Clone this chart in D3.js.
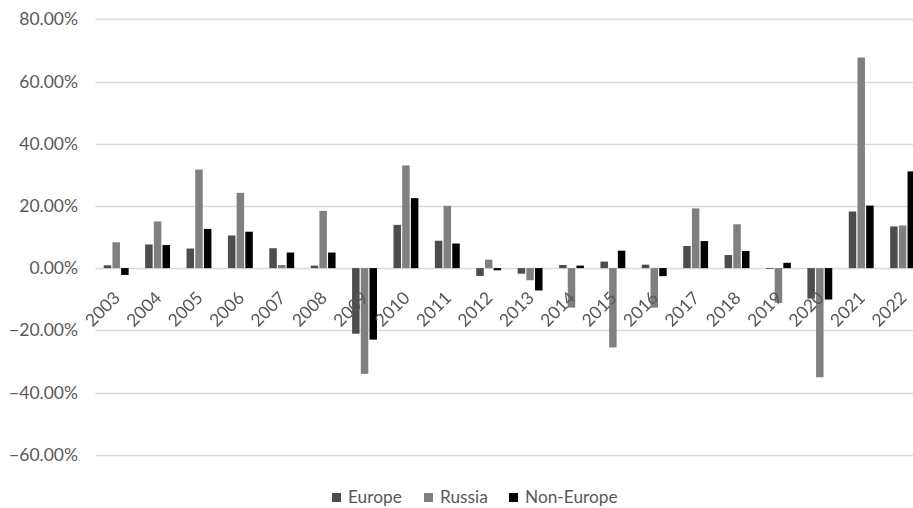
<!DOCTYPE html>
<html>
<head>
<meta charset="utf-8">
<script src="https://cdn.jsdelivr.net/npm/d3@7"></script>
<style>
  html, body { margin: 0; padding: 0; background: #fff; }
  svg { display: block; }
  text { font-family: Lato, "Open Sans", sans-serif; fill: #595959; -webkit-font-smoothing: antialiased; }
</style>
</head>
<body>
<svg id="chart" width="913" height="508"></svg>
<script>
// Annual change by market, in percent
const years = ["2003","2004","2005","2006","2007","2008","2009","2010","2011","2012",
               "2013","2014","2015","2016","2017","2018","2019","2020","2021","2022"];
const europe    = [0.9, 7.6, 6.3, 10.5, 6.4, 0.8, -21.1, 13.9, 8.8, -2.5,
                   -1.8, 1.0, 2.1, 1.1, 7.1, 4.2, -0.2, -9.8, 18.2, 13.4];
const russia    = [8.3, 15.0, 31.7, 24.2, 1.0, 18.4, -34.0, 33.0, 20.0, 2.7,
                   -3.9, -12.7, -25.5, -12.7, 19.2, 14.1, -11.2, -35.1, 67.7, 13.7];
const nonEurope = [-2.2, 7.4, 12.6, 11.7, 5.0, 5.0, -23.0, 22.5, 7.9, -0.7,
                   -7.2, 0.8, 5.6, -2.6, 8.7, 5.5, 1.7, -10.1, 20.1, 31.1];
const seriesNames  = ["Europe", "Russia", "Non-Europe"];
const seriesColors = ["#4d4d4d", "#808080", "#000000"];
const yTicks = [-60, -40, -20, 0, 20, 40, 60, 80];

const seriesValues = [europe, russia, nonEurope];
const rows = years.map((y, i) => ({ year: y, vals: seriesValues.map(s => s[i]) }));

const svg = d3.select("#chart");

const x = d3.scaleBand().domain(years).range([95.5, 923.3]).paddingInner(0.37).paddingOuter(0.185);
const xs = d3.scaleBand().domain(d3.range(3)).range([0, x.bandwidth()]);
const y = d3.scaleLinear().domain([-60, 80]).range([454.7, 19.3]);

// gridlines
svg.append("g").selectAll("line").data(yTicks).join("line")
  .attr("x1", 95.5).attr("x2", 913)
  .attr("y1", d => Math.round(y(d)) + 0.5).attr("y2", d => Math.round(y(d)) + 0.5)
  .attr("stroke", "#d9d9d9").attr("stroke-width", 1.3);

// y axis labels
const yAxis = d3.axisLeft(y).tickValues(yTicks).tickSize(0).tickPadding(0)
  .tickFormat(d => d3.format(".2f")(d) + "%");
const gy = svg.append("g").attr("transform", "translate(78,0)").call(yAxis);
gy.select(".domain").remove();
gy.selectAll("text").attr("font-size", 17.5).attr("font-family", "Lato, sans-serif").attr("fill", "#595959");

// bars
const groups = svg.append("g").selectAll("g").data(rows).join("g")
  .attr("transform", d => `translate(${x(d.year)},0)`);
groups.selectAll("rect").data(d => d.vals.map((v, k) => ({ v, k }))).join("rect")
  .attr("x", d => xs(d.k) + 0.6)
  .attr("width", xs.bandwidth() - 1.2)
  .attr("y", d => Math.min(y(0), y(d.v)))
  .attr("height", d => Math.max(0.8, Math.abs(y(d.v) - y(0))))
  .attr("fill", d => seriesColors[d.k]);

// category labels, drawn over the bars
const xAxis = d3.axisBottom(x).tickSize(0).tickPadding(0);
const gx = svg.append("g").attr("opacity", 0.999).call(xAxis);
gx.select(".domain").remove();
gx.selectAll(".tick text")
  .attr("font-size", 17.5).attr("font-family", "Lato, sans-serif").attr("fill", "#404040")
  .attr("text-anchor", "end").attr("dy", 0).attr("y", 0)
  .attr("transform", "translate(5,299) rotate(-45)");

// legend
const legendX = [332, 424, 509];
const lg = svg.append("g").selectAll("g").data(seriesNames).join("g")
  .attr("transform", (d, i) => `translate(${legendX[i]},493)`);
lg.append("rect").attr("width", 9).attr("height", 9).attr("fill", (d, i) => seriesColors[i]);
lg.append("text").attr("x", 16).attr("y", 9.5).attr("font-size", 17.3).text(d => d);
</script>
</body>
</html>
